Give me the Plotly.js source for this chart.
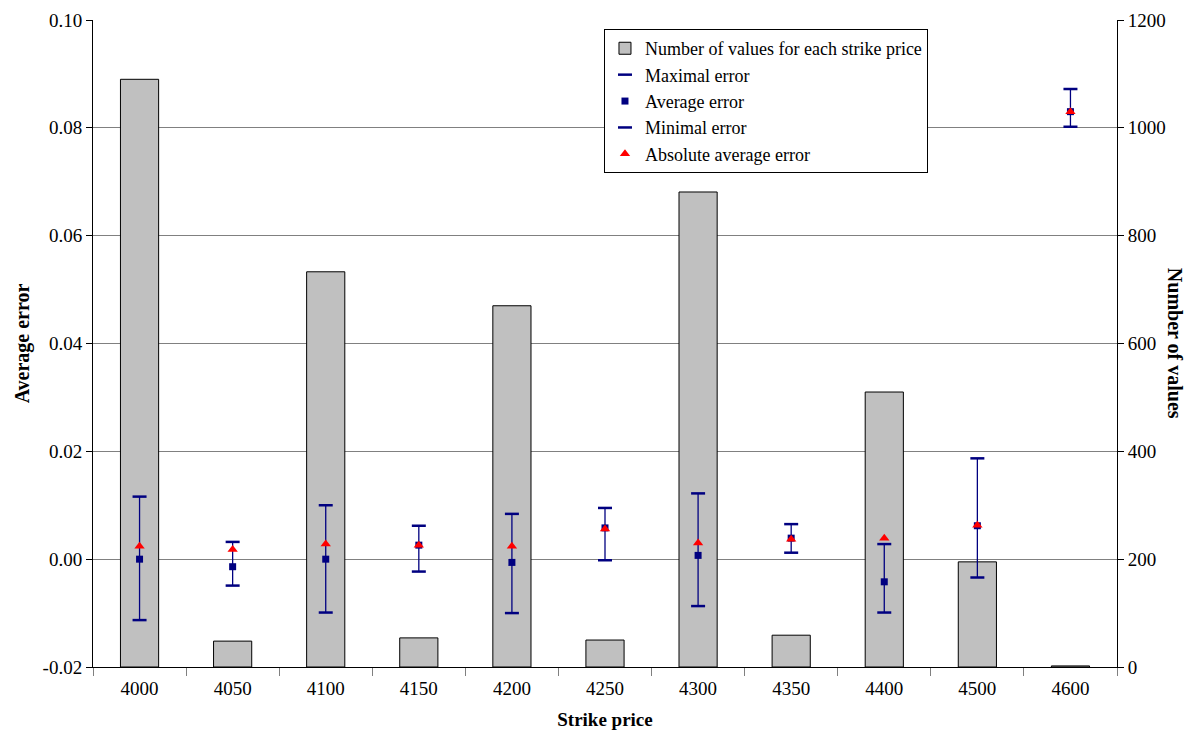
<!DOCTYPE html>
<html>
<head>
<meta charset="utf-8">
<script src="https://cdn.plot.ly/plotly-3.0.1.min.js"></script>
<style>html,body{margin:0;padding:0;background:#fff}#chart{width:1192px;height:734px}</style>
</head>
<body>
<div id="chart"></div>
<script>
const strikes = ["4000","4050","4100","4150","4200","4250","4300","4350","4400","4500","4600"];
const counts = [1090, 48, 733, 54, 670, 50, 881, 59, 510, 195, 2];
const maxErr = [0.0116, 0.0032, 0.0100, 0.0062, 0.0084, 0.0095, 0.0122, 0.0065, 0.0028, 0.0187, 0.0872];
const avgErr = [0.0000, -0.0014, 0.0000, 0.0026, -0.0006, 0.0058, 0.0007, 0.0039, -0.0042, 0.0062, 0.0830];
const minErr = [-0.0113, -0.0049, -0.0099, -0.0023, -0.0100, -0.0002, -0.0087, 0.0012, -0.0099, -0.0034, 0.0802];
const absErr = [0.0024, 0.0018, 0.0028, 0.0026, 0.0024, 0.0056, 0.0030, 0.0037, 0.0039, 0.0063, 0.0830];
const errTickVals = [-0.02, 0.00, 0.02, 0.04, 0.06, 0.08, 0.10];
const errTickText = ["-0.02", "0.00", "0.02", "0.04", "0.06", "0.08", "0.10"];

const navy = "#000080";
const font = "Liberation Serif, Times New Roman, serif";

const errUp = maxErr.map((v, i) => v - avgErr[i]);
const errDown = avgErr.map((v, i) => v - minErr[i]);

const traces = [
  {
    type: "bar", x: strikes, y: counts, name: "Number of values for each strike price",
    marker: {color: "#C0C0C0", line: {color: "#000000", width: 1}},
    yaxis: "y", xaxis: "x"
  },
  {
    type: "scatter", mode: "markers", x: strikes, y: maxErr, name: "Maximal error",
    marker: {symbol: "line-ew-open", size: 10, color: navy, line: {color: navy, width: 2.5}},
    yaxis: "y2"
  },
  {
    type: "scatter", mode: "markers", x: strikes, y: avgErr, name: "Average error",
    marker: {symbol: "square", size: 7, color: navy},
    error_y: {type: "data", symmetric: false, array: errUp, arrayminus: errDown, color: navy, thickness: 1.3, width: 0},
    yaxis: "y2"
  },
  {
    type: "scatter", mode: "markers", x: strikes, y: minErr, name: "Minimal error",
    marker: {symbol: "line-ew-open", size: 10, color: navy, line: {color: navy, width: 2.5}},
    yaxis: "y2"
  },
  {
    type: "scatter", mode: "markers", x: strikes, y: absErr, name: "Absolute average error",
    marker: {symbol: "triangle-up", size: 9, color: "#FF0000"},
    yaxis: "y2"
  }
];

const layout = {
  width: 1192, height: 734,
  margin: {l: 93, r: 75, t: 20, b: 67},
  paper_bgcolor: "#ffffff", plot_bgcolor: "#ffffff",
  font: {family: font, size: 19, color: "#000"},
  showlegend: true,
  bargap: 0.59,
  xaxis: {
    type: "category", range: [-0.5, 10.5], tickson: "boundaries", ticks: "outside", ticklen: 8, tickcolor: "#808080",
    ticklabelstandoff: 4,
    showline: true, linecolor: "#000", linewidth: 1, showgrid: false, zeroline: false,
    tickfont: {family: font, size: 19},
    title: {text: "<b>Strike price</b>", font: {family: font, size: 19}, standoff: 14}
  },
  yaxis: {
    side: "right", range: [0, 1200], dtick: 200, tickformat: "d",
    ticks: "outside", ticklen: 6, tickcolor: "#000",
    showline: true, linecolor: "#000", linewidth: 1,
    showgrid: true, gridcolor: "#808080", gridwidth: 1, zeroline: false,
    tickfont: {family: font, size: 19}
  },
  yaxis2: {
    overlaying: "y", side: "left", range: [-0.02, 0.10],
    tickmode: "array", tickvals: errTickVals, ticktext: errTickText,
    ticks: "outside", ticklen: 6, tickcolor: "#000",
    showline: true, linecolor: "#000", linewidth: 1,
    showgrid: false, zeroline: false,
    tickfont: {family: font, size: 19},
    title: {text: "<b>Average error</b>", font: {family: font, size: 20}, standoff: 7}
  },
  legend: {
    x: 0.499, y: 0.986, xanchor: "left", yanchor: "top",
    bgcolor: "#ffffff", bordercolor: "#000", borderwidth: 1,
    font: {family: font, size: 18}, traceorder: "normal",
    tracegroupgap: 0, itemwidth: 30
  },
  annotations: [{
    text: "<b>Number of values</b>", xref: "paper", yref: "paper",
    x: 1.07, y: 0.5, showarrow: false, textangle: 90,
    font: {family: font, size: 20}
  }]
};

Plotly.newPlot("chart", traces, layout, {displayModeBar: false});
</script>
</body>
</html>
